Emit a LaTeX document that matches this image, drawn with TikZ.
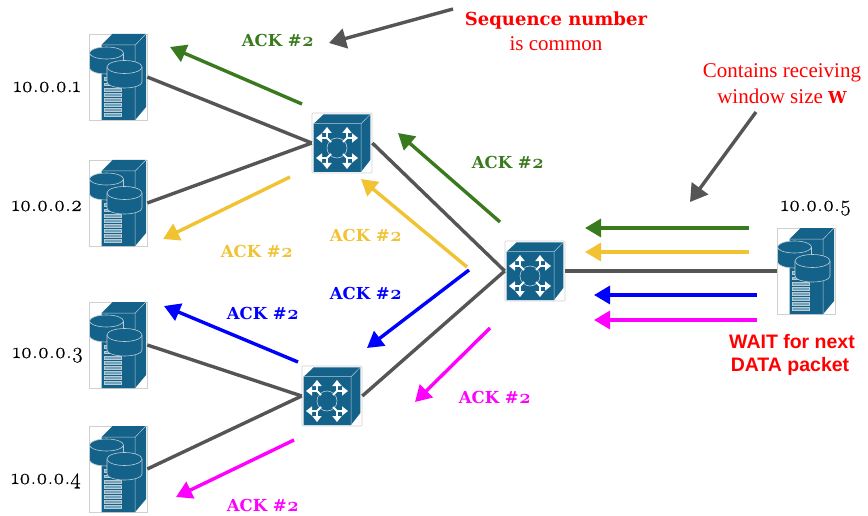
\documentclass[tikz,border=0pt]{standalone}
\usepackage{fontspec}
\usetikzlibrary{arrows.meta}
\newfontfamily\serifface{Liberation Serif}
\newfontfamily\sansface{Liberation Sans}
\newfontfamily\boldserif{DejaVu Serif}
\newfontfamily\oldnum[Numbers=OldStyle]{Latin Modern Roman}
\newfontfamily\oldnumheavy[Numbers=OldStyle,FakeBold=0.5]{Latin Modern Roman}
\definecolor{icon}{HTML}{14628A}
\definecolor{iconline}{HTML}{B9CCD6}
\definecolor{frameg}{HTML}{D0D0D0}
\definecolor{linkg}{HTML}{555555}
\definecolor{ackgreen}{HTML}{3A7A1E}
\definecolor{ackyellow}{HTML}{F1C232}
\definecolor{ackblue}{HTML}{0000FF}
\definecolor{ackmag}{HTML}{FF00FF}
\newcommand{\acktext}{{\boldserif\bfseries ACK \#}{\oldnum\bfseries\fontsize{20}{20}\selectfont 2}}
\tikzset{
  x=1pt,y=-1pt,
  servernode/.style={draw=frameg,line width=.6pt,fill=white,minimum width=58pt,minimum height=86pt,inner sep=0pt},
  switchnode/.style={draw=frameg,line width=.6pt,fill=white,rounded corners=1pt,minimum width=60pt,minimum height=60pt,inner sep=0pt},
  link/.style={draw=linkg,line width=3.4pt},
  ackarrow/.style={line width=3.4pt,-{Triangle[length=16pt,width=18pt]}},
  notearrow/.style={draw=linkg,line width=3.4pt,-{Triangle[length=17pt,width=20pt]}},
  ipl/.style={font=\oldnumheavy\fontsize{22}{22}\selectfont,text=black,inner sep=0pt,anchor=base},
  acklabel/.style={font=\fontsize{16.5}{18}\selectfont,inner sep=0pt},
  note/.style={font=\serifface\fontsize{21}{21}\selectfont,text=red,inner sep=0pt},
  noteb/.style={font=\boldserif\bfseries\fontsize{18}{18}\selectfont,text=red,inner sep=0pt},
  waitl/.style={font=\sansface\bfseries\fontsize{19.5}{19.5}\selectfont,text=red,inner sep=0pt},
  pics/serverpic/.style={code={
    \begin{scope}[shift={(-29.5,-43)}]
      \fill[icon] (13,11) -- (24,0) -- (57.5,0) -- (57.5,73) -- (46.7,86) -- (13,86) -- cycle;
      \draw[iconline,line width=.5pt] (13,11) -- (46.7,11) -- (57.5,0) (46.7,11) -- (46.7,86);
      \foreach \yy in {45,50.5,56,61,66,71,76,81}
        {\draw[iconline,line width=1pt,fill=icon!60!white] (16,\yy-1.4) rectangle (33,\yy+1.4);}
      \draw[iconline,line width=.6pt,fill=icon] (1,19) -- (1,34) arc[start angle=180,end angle=360,x radius=17,y radius=-6] -- (35,19);
      \draw[iconline,line width=.6pt,fill=icon] (18,19) ellipse[x radius=17,y radius=6];
      \draw[iconline,line width=.6pt,fill=icon] (18.5,33) -- (18.5,48) arc[start angle=180,end angle=360,x radius=17.5,y radius=-6] -- (53.5,33);
      \draw[iconline,line width=.6pt,fill=icon] (36,33) ellipse[x radius=17.5,y radius=6.5];
    \end{scope}
  }},
  pics/switchpic/.style={code={
    \begin{scope}[shift={(-30,-30)}]
      \fill[icon] (1.7,10.7) -- (11.7,1.3) -- (58.3,1.3) -- (58.3,47) -- (49,59) -- (1.7,59) -- cycle;
      \draw[iconline,line width=.5pt] (1.7,10.7) -- (49,10.7) -- (58.3,1.3) (49,10.7) -- (49,59);
      \begin{scope}[shift={(25,35)}]
        \draw[iconline,line width=.6pt] (0,0) circle[radius=10];
        \foreach \sx/\sy in {1/1,1/-1,-1/1,-1/-1} {
          \begin{scope}[xscale=\sx,yscale=\sy]
            \draw[white,line width=2pt] (6,-6) -- (10,-10);
            \draw[white,line width=2pt,-{Triangle[length=6pt,width=9pt]}] (10,-9) -- (10,-21);
            \draw[white,line width=2pt,-{Triangle[length=6pt,width=9pt]}] (9,-10) -- (21,-10);
          \end{scope}
        }
      \end{scope}
    \end{scope}
  }}
}
\begin{document}
\begin{tikzpicture}
\useasboundingbox (0,0) rectangle (868,516);
% nodes
\node[servernode] (s1) at (118,77) {};
\node[servernode] (s2) at (118,203) {};
\node[servernode] (s3) at (118,345) {};
\node[servernode] (s4) at (118,469) {};
\node[servernode] (s5) at (806,271) {};
\node[switchnode] (sw1) at (342,143) {};
\node[switchnode] (sw2) at (535,271) {};
\node[switchnode] (sw3) at (332,396) {};
\foreach \n in {s1,s2,s3,s4,s5} {\pic at (\n) {serverpic};}
\foreach \n in {sw1,sw2,sw3} {\pic at (\n) {switchpic};}
% links
\draw[link] (s1.east) -- (sw1.west);
\draw[link] (s2.east) -- (sw1.west);
\draw[link] (s3.east) -- (sw3.west);
\draw[link] (s4.east) -- (sw3.west);
\draw[link] (sw1.east) -- (sw2.west);
\draw[link] (sw3.east) -- (sw2.west);
\draw[link] (sw2.east) -- (s5.west);
% arrow ends
\coordinate (ga1) at (302,104); \coordinate (gb1) at (170,47);
\coordinate (ga2) at (500,222); \coordinate (gb2) at (398,133);
\coordinate (ga3) at (749,228); \coordinate (gb3) at (585,228);
\coordinate (ya1) at (290,177); \coordinate (yb1) at (163,239);
\coordinate (ya2) at (467,267); \coordinate (yb2) at (361,179);
\coordinate (ya3) at (749,252); \coordinate (yb3) at (585,252);
\coordinate (ba1) at (469,270); \coordinate (bb1) at (367,348);
\coordinate (ba2) at (298,362); \coordinate (bb2) at (164,306);
\coordinate (ba3) at (757,295); \coordinate (bb3) at (594,295);
\coordinate (ma1) at (490,328); \coordinate (mb1) at (415,402);
\coordinate (ma2) at (294,440); \coordinate (mb2) at (176,497);
\coordinate (ma3) at (757,320); \coordinate (mb3) at (594,320);
\coordinate (na1) at (453,9); \coordinate (nb1) at (329,43);
\coordinate (na2) at (756,112); \coordinate (nb2) at (690,202);
\foreach \i in {1,2,3} {
  \draw[ackarrow,ackgreen] (ga\i) -- (gb\i);
  \draw[ackarrow,ackyellow] (ya\i) -- (yb\i);
  \draw[ackarrow,ackblue] (ba\i) -- (bb\i);
  \draw[ackarrow,ackmag] (ma\i) -- (mb\i);
}
\draw[notearrow] (na1) -- (nb1);
\draw[notearrow] (na2) -- (nb2);
% labels
\node[ipl] (ip1) at (47,92) {10.0.0.1};
\node[ipl] (ip2) at (47,211) {10.0.0.2};
\node[ipl] (ip3) at (48,358) {10.0.0.3};
\node[ipl] (ip4) at (46,484) {10.0.0.4};
\node[ipl] (ip5) at (816,211) {10.0.0.5};
\node[acklabel,text=ackgreen] (l1) at (278,40) {\acktext};
\node[acklabel,text=ackgreen] (l2) at (508,162) {\acktext};
\node[acklabel,text=ackyellow] (l3) at (257,251) {\acktext};
\node[acklabel,text=ackyellow] (l4) at (366,235) {\acktext};
\node[acklabel,text=ackblue] (l5) at (366,293) {\acktext};
\node[acklabel,text=ackblue] (l6) at (263,313) {\acktext};
\node[acklabel,text=ackmag] (l7) at (495,397) {\acktext};
\node[acklabel,text=ackmag] (l8) at (263,505) {\acktext};
\node[noteb] (n1) at (556,21) {Sequence number};
\node[note] (n2) at (556,44) {is common};
\node[note] (n3) at (782,73) {Contains receiving};
\node[note] (n4) at (782,96) {window size {\boldserif\bfseries\fontsize{16.5}{16.5}\selectfont W}};
\node[waitl] (w1) at (792,342) {WAIT for next};
\node[waitl] (w2) at (790,366) {DATA packet};
\end{tikzpicture}
\end{document}
